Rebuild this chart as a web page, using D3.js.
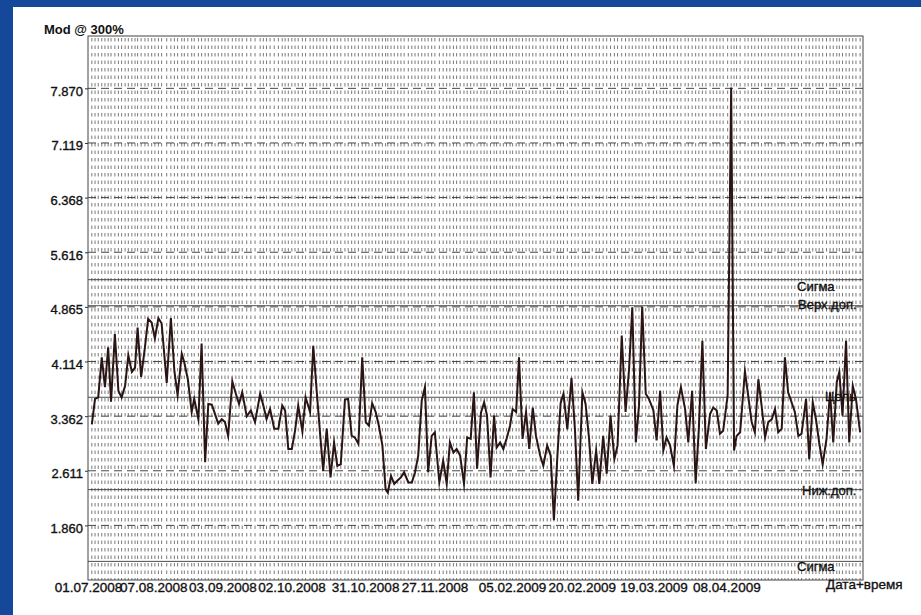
<!DOCTYPE html>
<html>
<head>
<meta charset="utf-8">
<script src="https://cdn.jsdelivr.net/npm/d3@7/dist/d3.min.js"></script>
<style>
  html, body { margin: 0; padding: 0; background: #ffffff; overflow: hidden; }
  svg { display: block; }
  text { font-family: "Liberation Sans", Arial, sans-serif; fill: #111; }
</style>
</head>
<body>
<svg id="chart" width="921" height="615"></svg>
<script>
// ---- data ----
const title = "Mod @ 300%";
const xTitle = "Дата+время";
const yTicks = [7.870, 7.119, 6.368, 5.616, 4.865, 4.114, 3.362, 2.611, 1.860];
const xTickPos = [0, 20.4, 42.0, 63.6, 86.6, 108.3, 132.5, 154.3, 176.7, 199.5];
const xTickLabels = ["01.07.2008", "07.08.2008", "03.09.2008", "02.10.2008", "31.10.2008",
                     "27.11.2008", "05.02.2009", "20.02.2009", "19.03.2009", "08.04.2009"];
const refNames = ["Сигма", "Верх.доп.", "Цель", "Ниж.доп.", "Сигма"];
const refValues = [5.239, 4.881, 3.622, 2.352, 1.365];

const sampleX = [
  1.2, 2.2, 3.2, 4.3, 5.3, 6.3, 7.2, 8.4, 9.5, 10.5, 11.6, 12.6, 13.7, 14.7, 15.5, 16.6, 17.8, 18.8, 19.9, 20.9,
  22.0, 23.0, 24.6, 25.9, 27.0, 28.0, 29.3, 30.1, 31.2, 32.4, 33.2, 34.5, 35.5, 36.6, 37.6, 38.7, 39.7, 40.7, 41.8, 42.8,
  43.8, 45.1, 46.2, 47.2, 48.2, 49.6, 50.9, 52.2, 53.8, 54.8, 55.8, 56.9, 58.2, 59.5, 60.7, 61.6, 62.6, 63.7, 64.7, 65.7,
  67.0, 68.0, 69.4, 70.4, 71.5, 72.5, 73.5, 74.6, 75.8, 76.9, 77.9, 79.0, 80.3, 81.3, 82.4, 83.4, 84.5, 85.7, 86.8, 87.8,
  88.8, 89.9, 90.9, 92.0, 93.0, 93.7, 94.7, 95.7, 96.8, 97.8, 98.8, 100.1, 101.2, 102.2, 103.2, 104.3, 105.3, 106.3, 107.4, 108.4,
  109.8, 111.0, 112.1, 113.1, 114.2, 115.2, 116.3, 117.5, 118.5, 119.6, 120.6, 121.6, 122.8, 123.8, 124.7, 125.8, 126.9, 127.7, 128.8, 129.8,
  130.8, 131.9, 132.7, 133.8, 134.7, 135.8, 136.9, 137.9, 139.0, 140.0, 141.3, 142.3, 143.5, 144.6, 145.6, 146.7, 147.7, 148.6, 149.8, 151.1,
  152.2, 153.2, 154.5, 155.5, 156.6, 157.6, 158.8, 159.8, 161.0, 162.1, 163.3, 164.5, 165.5, 166.8, 168.0, 169.1, 170.1, 171.2, 172.2, 173.2,
  174.3, 175.3, 176.7, 177.7, 178.8, 179.8, 180.8, 181.9, 183.1, 184.2, 185.3, 186.6, 187.6, 188.8, 189.9, 190.9, 192.0, 193.1, 194.4, 195.4,
  196.5, 197.5, 198.5, 199.9, 201.0, 201.9, 202.7, 203.8, 205.3, 206.3, 207.4, 208.4, 209.5, 210.5, 211.6, 212.6, 213.7, 214.7, 215.7, 216.8,
  217.8, 218.8, 219.9, 220.9, 222.0, 223.0, 224.4, 225.4, 226.5, 227.5, 228.5, 229.6, 230.8, 231.9, 232.9, 234.0, 234.8, 235.8, 236.9, 237.9,
  239.0, 240.0, 241.3
];
const modValues = [
  3.25, 3.60, 3.62, 4.17, 3.76, 4.31, 3.56, 4.49, 3.71, 3.62, 3.78, 4.20, 3.97, 4.03, 4.58, 3.90, 4.31, 4.70, 4.65, 4.43,
  4.71, 4.64, 3.82, 4.71, 3.98, 3.65, 4.22, 4.10, 3.87, 3.42, 3.60, 3.32, 4.36, 2.73, 3.53, 3.52, 3.39, 3.26, 3.32, 3.28,
  3.09, 3.84, 3.67, 3.53, 3.69, 3.36, 3.44, 3.28, 3.67, 3.51, 3.32, 3.46, 3.19, 3.19, 3.51, 3.44, 2.91, 2.91, 3.16, 3.51,
  3.15, 3.62, 3.42, 4.33, 3.69, 3.14, 2.61, 3.19, 2.52, 3.00, 2.68, 2.70, 3.59, 3.60, 3.09, 3.07, 2.98, 4.17, 3.28, 3.23,
  3.54, 3.42, 3.23, 2.96, 2.36, 2.31, 2.54, 2.43, 2.48, 2.52, 2.59, 2.45, 2.45, 2.59, 2.82, 3.58, 3.76, 2.59, 3.09, 3.14,
  2.45, 2.75, 2.43, 3.00, 2.86, 2.91, 2.82, 2.43, 3.07, 3.05, 3.69, 2.64, 3.41, 3.55, 3.37, 2.52, 3.37, 2.93, 3.00, 2.91,
  3.05, 3.23, 3.46, 3.42, 4.17, 3.05, 3.42, 2.91, 3.48, 3.09, 2.82, 2.68, 2.96, 2.82, 1.93, 2.82, 3.54, 3.67, 3.18, 3.89,
  3.16, 2.20, 3.69, 3.53, 3.05, 2.43, 2.89, 2.43, 3.09, 2.57, 3.37, 2.77, 2.96, 4.47, 3.42, 4.01, 4.86, 3.00, 3.51, 4.87,
  3.67, 3.60, 3.44, 3.03, 3.71, 2.89, 3.07, 2.96, 2.68, 3.51, 3.76, 3.46, 3.00, 3.71, 2.44, 3.19, 4.40, 2.91, 3.39, 3.48,
  3.44, 3.12, 3.16, 3.65, 7.88, 2.89, 3.09, 3.14, 3.98, 3.65, 3.28, 3.14, 3.87, 3.51, 3.07, 3.28, 3.32, 3.46, 3.14, 3.19,
  4.17, 3.69, 3.55, 3.42, 3.09, 3.12, 3.60, 2.77, 3.55, 3.32, 3.00, 2.70, 3.05, 3.69, 3.00, 3.83, 3.97, 3.37, 4.40, 3.00,
  3.78, 3.60, 3.14
];

// ---- layout ----
const W = 921, H = 615;
const plot = { left: 88, right: 863, top: 36, bottom: 580 };
const svg = d3.select("#chart");

// paper and blue slide border (left and top strips)
svg.append("rect").attr("x", 0).attr("y", 0).attr("width", W).attr("height", H).attr("fill", "#ffffff");
svg.append("rect").attr("x", 0).attr("y", 0).attr("width", 13).attr("height", H).attr("fill", "#15489a");
svg.append("rect").attr("x", 0).attr("y", 0).attr("width", W).attr("height", 7).attr("fill", "#15489a");

const x = d3.scaleLinear().domain([0, 242.2]).range([plot.left, plot.right]);
const y = d3.scaleLinear().domain([1.109, 8.59]).range([plot.bottom, plot.top]);

const pts = sampleX.map((s, i) => ({ s, v: modValues[i] }));

// dense dotted vertical pattern at each sample
svg.append("g").selectAll("line").data(pts).join("line")
  .attr("x1", d => x(d.s)).attr("x2", d => x(d.s))
  .attr("y1", y.range()[1] + 2).attr("y2", y.range()[0])
  .attr("stroke", "#2a2a2a").attr("stroke-width", 1)
  .attr("stroke-dasharray", "3.5,4").attr("opacity", 0.62);

// dashed horizontal grid at ticks
svg.append("g").selectAll("line").data(yTicks).join("line")
  .attr("x1", plot.left).attr("x2", plot.right)
  .attr("y1", d => y(d)).attr("y2", d => y(d))
  .attr("stroke", "#333").attr("stroke-width", 0.9)
  .attr("stroke-dasharray", "8,5");

// reference lines
svg.append("g").selectAll("line").data(refValues).join("line")
  .attr("x1", plot.left).attr("x2", plot.right)
  .attr("y1", d => y(d)).attr("y2", d => y(d))
  .attr("stroke", "#3a3a3a").attr("stroke-width", 0.9);

// frame
svg.append("rect").attr("x", plot.left).attr("y", plot.top)
  .attr("width", plot.right - plot.left).attr("height", plot.bottom - plot.top)
  .attr("fill", "none").attr("stroke", "#444").attr("stroke-width", 1);

// data line
svg.append("path").datum(pts)
  .attr("d", d3.line().x(d => x(d.s)).y(d => y(d.v)))
  .attr("fill", "none").attr("stroke", "#2a1414").attr("stroke-width", 2)
  .attr("stroke-linejoin", "miter").attr("stroke-miterlimit", 10);

// reference labels
const refLabelX = [797, 798, 825, 802, 797];
const refLabelDy = [11, 3, 4, 5, 10];
svg.append("g").selectAll("text").data(refNames).join("text")
  .attr("x", (d, i) => refLabelX[i])
  .attr("y", (d, i) => y(refValues[i]) + refLabelDy[i])
  .attr("font-size", 13)
  .attr("stroke", "#111").attr("stroke-width", 0.35)
  .text(d => d);

// y axis
const yAxis = svg.append("g").attr("transform", `translate(${plot.left},0)`)
  .call(d3.axisLeft(y).tickValues(yTicks).tickFormat(d3.format(".3f")).tickSize(3).tickPadding(2));
yAxis.select(".domain").remove();
yAxis.selectAll("line").attr("stroke", "#333");
yAxis.selectAll("text").attr("font-size", 13).attr("dy", "0.54em")
  .style("font-family", "'Liberation Sans', Arial, sans-serif").attr("fill", "#111")
  .attr("stroke", "#111").attr("stroke-width", 0.35);

// x axis
const xAxis = svg.append("g").attr("transform", `translate(0,${plot.bottom})`)
  .call(d3.axisBottom(x).tickValues(xTickPos).tickFormat((d, i) => xTickLabels[i]).tickSize(0).tickPadding(2));
xAxis.select(".domain").remove();
xAxis.selectAll("text").attr("font-size", 13.5)
  .style("font-family", "'Liberation Sans', Arial, sans-serif").attr("fill", "#111")
  .attr("stroke", "#111").attr("stroke-width", 0.35);

// titles
svg.append("text").attr("x", 44).attr("y", 33.5).attr("font-size", 13).attr("font-weight", "bold").text(title);
svg.append("text").attr("x", 826).attr("y", 589).attr("font-size", 13.5)
  .attr("stroke", "#111").attr("stroke-width", 0.35).text(xTitle);
</script>
</body>
</html>
